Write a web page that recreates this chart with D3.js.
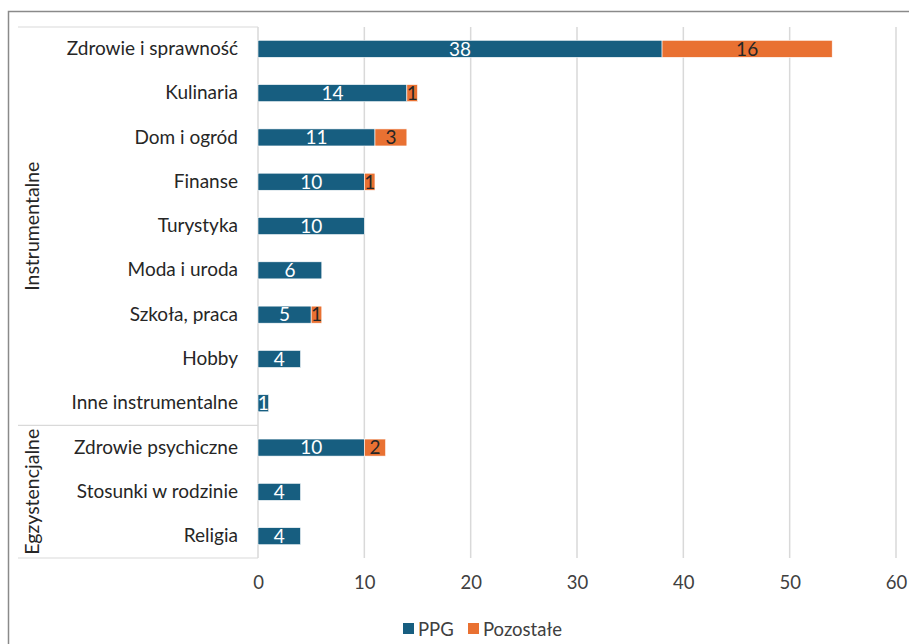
<!DOCTYPE html>
<html><head><meta charset="utf-8">
<script src="https://cdn.jsdelivr.net/npm/d3@7"></script>
<style>body{margin:0;background:#fff}svg{display:block;font-family:Lato,"Open Sans",sans-serif}</style>
</head><body><svg id="c" width="909" height="644"></svg>
<script>
const categories = ["Zdrowie i sprawność","Kulinaria","Dom i ogród","Finanse","Turystyka","Moda i uroda","Szkoła, praca","Hobby","Inne instrumentalne","Zdrowie psychiczne","Stosunki w rodzinie","Religia"];
const groups = [{name:"Instrumentalne", from:0, to:8},{name:"Egzystencjalne", from:9, to:11}];
const ppg = [38,14,11,10,10,6,5,4,1,10,4,4];
const pozostale = [16,1,3,1,0,0,1,0,0,2,0,0];
const ticks = [0,10,20,30,40,50,60];
const seriesNames = ["PPG","Pozostałe"];
const colors = ["#175E80","#E97132"];

const svg = d3.select("#c");
svg.append("rect").attr("x",8.5).attr("y",11.5).attr("width",910).attr("height",650).attr("fill","none").attr("stroke","#8a8a8a").attr("stroke-width",1.5);

const x = d3.scaleLinear().domain([0,60]).range([258,896]);
const y = d3.scaleBand().domain(categories).range([27,558]).paddingInner(0.615).paddingOuter(0.3);

// gridlines
svg.append("g").selectAll("line").data(ticks.slice(1)).join("line")
  .attr("x1",d=>x(d)).attr("x2",d=>x(d)).attr("y1",27).attr("y2",558)
  .attr("stroke","#d9d9d9").attr("stroke-width",1.5);
// axis line
svg.append("line").attr("x1",258).attr("x2",258).attr("y1",27).attr("y2",558).attr("stroke","#d9d9d9").attr("stroke-width",1.5);

// group separator lines
const bounds = [27, (y(categories[8])+y(categories[9])+y.bandwidth())/2, 558];
svg.append("g").selectAll("line").data(bounds).join("line")
  .attr("x1",18).attr("x2",258).attr("y1",d=>d).attr("y2",d=>d)
  .attr("stroke","#d9d9d9").attr("stroke-width",1.2);

// x-axis tick labels
const xAxis = d3.axisBottom(x).tickValues(ticks).tickSize(0).tickPadding(0);
const gx = svg.append("g").attr("transform","translate(0,576)").call(xAxis);
gx.select(".domain").remove();
gx.selectAll("text").attr("font-size",18.5).attr("fill","#404040").attr("font-family","Lato,sans-serif");

// category labels
const yAxis = d3.axisLeft(y).tickSize(0).tickPadding(20);
const gy = svg.append("g").attr("transform","translate(258,0)").call(yAxis);
gy.select(".domain").remove();
gy.selectAll("text").attr("font-size",19).attr("fill","#262626").attr("font-family","Lato,sans-serif");

// group labels
groups.forEach(g=>{
  const y0 = g.from===0 ? bounds[0] : bounds[1];
  const y1 = g.from===0 ? bounds[1] : bounds[2];
  const cy = (y0+y1)/2;
  svg.append("text").attr("transform",`translate(39,${cy}) rotate(-90)`)
    .attr("text-anchor","middle").attr("font-size",19.5).attr("fill","#262626").text(g.name);
});

// bars
const stackData = categories.map((c,i)=>({cat:c, PPG:ppg[i], "Pozostałe":pozostale[i]}));
const stacked = d3.stack().keys(seriesNames)(stackData);
stacked.forEach((layer,li)=>{
  const g = svg.append("g");
  const segs = layer.filter(d=>d[1]-d[0]>0);
  g.selectAll("rect").data(segs).join("rect")
    .attr("x",d=>x(d[0])).attr("width",d=>x(d[1])-x(d[0]))
    .attr("y",d=>y(d.data.cat)).attr("height",y.bandwidth())
    .attr("fill",colors[li]).attr("stroke","#fff").attr("stroke-width",0.6);
  g.selectAll("text").data(segs).join("text")
    .attr("x",d=>(x(d[0])+x(d[1]))/2).attr("y",d=>y(d.data.cat)+y.bandwidth()/2)
    .attr("dy","0.36em").attr("text-anchor","middle").attr("font-size",19)
    .attr("fill",li===0?"#ffffff":"#262626").text(d=>d[1]-d[0]);
});

// legend
const leg = svg.append("g").attr("transform","translate(403,629)");
const items = [{n:seriesNames[0],c:colors[0],x:0},{n:seriesNames[1],c:colors[1],x:65}];
items.forEach(it=>{
  leg.append("rect").attr("x",it.x).attr("y",-6).attr("width",11).attr("height",11).attr("fill",it.c);
  leg.append("text").attr("x",it.x+15).attr("y",0).attr("dy","0.36em").attr("font-size",18.5).attr("fill","#404040").text(it.n);
});
</script></body></html>
